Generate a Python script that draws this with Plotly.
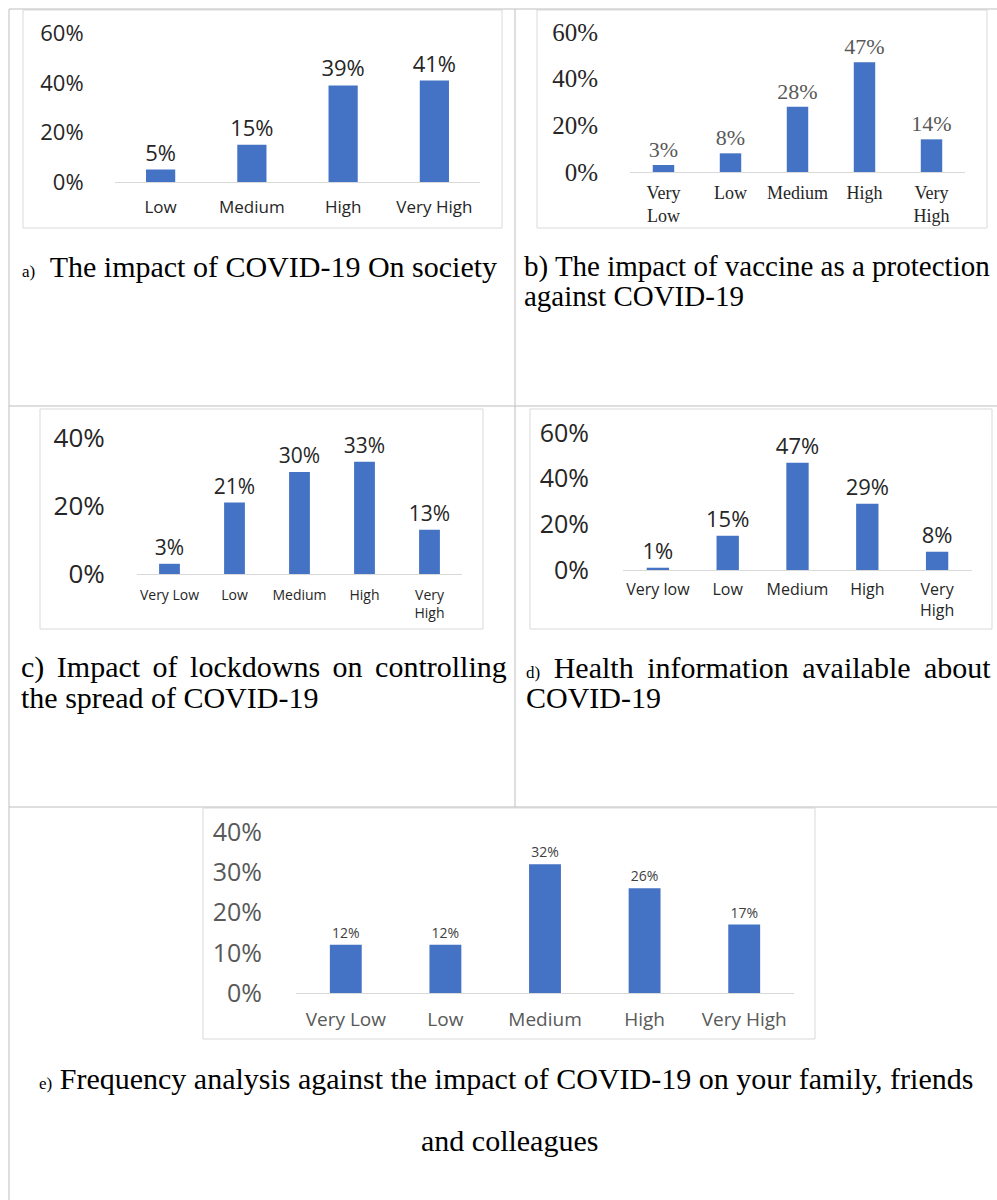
import plotly.graph_objects as go

# ---- data ----
CATS_A = ["Low", "Medium", "High", "Very High"]
VALS_A = [0.05, 0.15, 0.39, 0.41]

CATS_B = ["Very<br>Low", "Low", "Medium", "High", "Very<br>High"]
VALS_B = [0.03, 0.08, 0.28, 0.47, 0.14]

CATS_C = ["Very Low", "Low", "Medium", "High", "Very<br>High"]
VALS_C = [0.03, 0.21, 0.30, 0.33, 0.13]

CATS_D = ["Very low", "Low", "Medium", "High", "Very<br>High"]
VALS_D = [0.01, 0.15, 0.47, 0.29, 0.08]

CATS_E = ["Very Low", "Low", "Medium", "High", "Very High"]
VALS_E = [0.12, 0.12, 0.32, 0.26, 0.17]

W, H = 997, 1200
BAR = "#4472C4"
SANS = "Open Sans, Liberation Sans, sans-serif"
SERIF = "Liberation Serif, Times New Roman, serif"
TABLE = "#bfbfbf"
BOX = "#d9d9d9"


def px(x):
    return x / W


def py(y):
    return 1 - y / H


# one dict per small chart: pixel box of the plot area + font sizes/colours
PANELS = [
    dict(cats=CATS_A, vals=VALS_A, x=(115, 480), y=(182, 33.5), ymax=0.6, dtick=0.2, font=SANS,
         ysz=22, ycol="#262626", xsz=17, xcol="#262626", lsz=22, lcol="#262626", ystand=26, xstand=10),
    dict(cats=CATS_B, vals=VALS_B, x=(630, 965), y=(172, 32), ymax=0.6, dtick=0.2, font=SERIF,
         ysz=25, ycol="#262626", xsz=18, xcol="#262626", lsz=22, lcol="#595959", ystand=26, xstand=4),
    dict(cats=CATS_C, vals=VALS_C, x=(137, 462), y=(574, 438), ymax=0.4, dtick=0.2, font=SANS,
         ysz=26, ycol="#262626", xsz=14, xcol="#262626", lsz=21, lcol="#262626", ystand=26, xstand=8),
    dict(cats=CATS_D, vals=VALS_D, x=(623, 972), y=(570, 433), ymax=0.6, dtick=0.2, font=SANS,
         ysz=25, ycol="#262626", xsz=16, xcol="#262626", lsz=22, lcol="#262626", ystand=28, xstand=5),
    dict(cats=CATS_E, vals=VALS_E, x=(296, 794), y=(993, 832), ymax=0.4, dtick=0.1, font=SANS,
         ysz=25, ycol="#595959", xsz=19, xcol="#595959", lsz=14, lcol="#404040", ystand=28, xstand=9),
]

fig = go.Figure()
layout_axes = {}
for i, p in enumerate(PANELS, start=1):
    sx = "" if i == 1 else str(i)
    fig.add_trace(go.Bar(
        x=p["cats"], y=p["vals"], xaxis="x" + sx, yaxis="y" + sx,
        marker=dict(color=BAR, line=dict(width=0)), width=0.32,
        texttemplate="%{y:.0%}", textposition="outside",
        textfont=dict(family=p["font"], size=p["lsz"], color=p["lcol"]),
        constraintext="none", cliponaxis=False, showlegend=False, hoverinfo="skip",
    ))
    layout_axes["xaxis" + sx] = dict(
        domain=[px(p["x"][0]), px(p["x"][1])], anchor="y" + sx, type="category",
        showline=True, linecolor=BOX, linewidth=1, showgrid=False, zeroline=False,
        ticks="outside", ticklen=p["xstand"], tickcolor="rgba(0,0,0,0)", automargin=False,
        tickfont=dict(family=p["font"], size=p["xsz"], color=p["xcol"]), fixedrange=True,
    )
    layout_axes["yaxis" + sx] = dict(
        domain=[py(p["y"][0]), py(p["y"][1])], anchor="x" + sx,
        range=[0, p["ymax"]], tick0=0, dtick=p["dtick"], tickformat=".0%",
        showline=False, showgrid=False, zeroline=False, automargin=False,
        ticks="outside", ticklen=p["ystand"], tickcolor="rgba(0,0,0,0)",
        tickfont=dict(family=p["font"], size=p["ysz"], color=p["ycol"]), fixedrange=True,
    )

shapes = []
# table grid
for (x0, y0, x1, y1) in [(9, 9, 997, 9), (9, 406, 997, 406), (9, 807, 997, 807),
                         (9, 9, 9, 1200), (515, 9, 515, 807)]:
    shapes.append(dict(type="line", xref="paper", yref="paper", x0=px(x0), y0=py(y0),
                       x1=px(x1), y1=py(y1), line=dict(color=TABLE, width=1)))
# chart frames
for (x0, y0, x1, y1) in [(23, 10, 502, 228), (537, 10, 987, 228), (40, 409, 483, 629),
                         (530, 409, 992, 629), (203, 808, 815, 1039)]:
    shapes.append(dict(type="rect", xref="paper", yref="paper", x0=px(x0), y0=py(y0),
                       x1=px(x1), y1=py(y1), line=dict(color=BOX, width=1), layer="below"))

small = "<span style='font-size:17px'>{}</span>"
# (x, y, text, word spacing, font size)
captions = [
    (20, 266, small.format("a)") + "  The impact of COVID-19 On society", 0, 30),
    (522, 266, "b) The impact of vaccine as a protection", 0, 29),
    (522, 296, "against COVID-19", 0, 29),
    (19, 667, "c) Impact of lockdowns on controlling", 5, 30),
    (19, 697, "the spread of COVID-19", 0, 30),
    (524, 667, small.format("d)") + " Health information available about", 6, 30),
    (524, 697, "COVID-19", 0, 30),
    (37, 1078, small.format("e)") + " Frequency analysis against the impact of COVID-19 on your family, friends", 0, 30),
]
annotations = []
for (x, y, txt, ws, size) in captions:
    if ws:
        txt = "<span style='word-spacing:%dpx'>%s</span>" % (ws, txt)
    annotations.append(dict(x=px(x), y=py(y), xref="paper", yref="paper", xanchor="left",
                            yanchor="middle", text=txt, showarrow=False,
                            font=dict(family=SERIF, size=size, color="#000000")))
annotations.append(dict(x=px(509), y=py(1140), xref="paper", yref="paper", xanchor="center",
                        yanchor="middle", text="and colleagues", showarrow=False,
                        font=dict(family=SERIF, size=30, color="#000000")))

fig.update_layout(
    width=W, height=H, margin=dict(l=0, r=0, t=0, b=0, pad=0, autoexpand=False),
    paper_bgcolor="white", plot_bgcolor="white",
    shapes=shapes, annotations=annotations, showlegend=False,
    **layout_axes,
)

# drop the browser's default body margin so the figure sits at the page corner
fig.write_html("out.html", config={"displayModeBar": False},
               post_script="document.body.style.margin='0';")
